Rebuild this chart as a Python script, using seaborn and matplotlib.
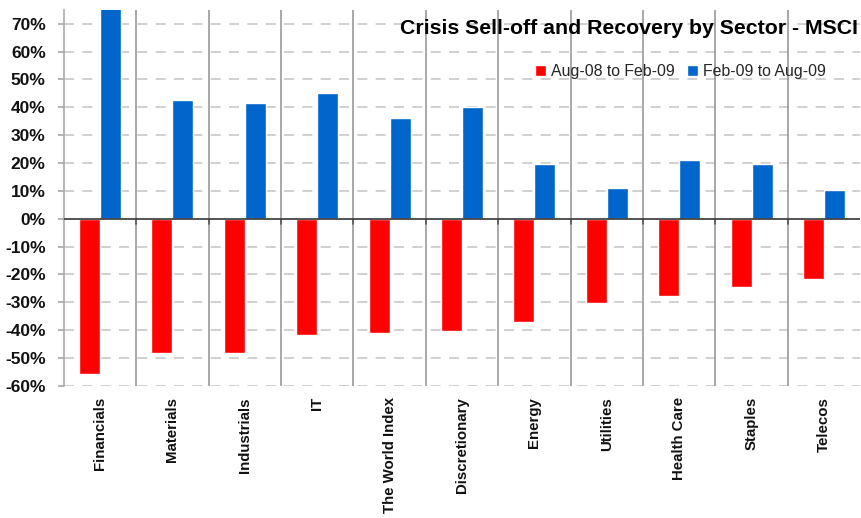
import matplotlib
matplotlib.use("Agg")
import matplotlib.pyplot as plt
import seaborn as sns
import pandas as pd
import numpy as np

sectors = ["Financials", "Materials", "Industrials", "IT", "The World Index",
           "Discretionary", "Energy", "Utilities", "Health Care", "Staples", "Telecos"]
selloff = [-55.8, -48.2, -48.2, -41.7, -41.0, -40.2, -37.0, -30.4, -27.9, -24.6, -21.7]
recovery = [76.0, 42.8, 41.7, 45.0, 36.0, 40.2, 19.6, 11.2, 21.0, 19.6, 10.5]
series = ["Aug-08 to Feb-09", "Feb-09 to Aug-09"]
colors = ["#FF0000", "#0066CC"]

df = pd.DataFrame({
    "Sector": sectors * 2,
    "Change": selloff + recovery,
    "Period": [series[0]] * len(sectors) + [series[1]] * len(sectors),
})

sns.set_theme(style="white")
plt.rcParams["font.family"] = ["Liberation Sans", "DejaVu Sans"]

fig = plt.figure(figsize=(8.62, 5.18), dpi=100)
ax = fig.add_axes([0.074, 0.255, 0.924, 0.726])

sns.barplot(data=df, x="Sector", y="Change", hue="Period", palette=colors,
            width=0.58, saturation=1, ax=ax, order=sectors, hue_order=series,
            legend=True)

ax.set_ylim(-60, 75)
ax.set_xlim(-0.5, len(sectors) - 0.5)
ax.set_yticks(np.arange(-60, 71, 10))
ax.set_yticklabels([f"{v}%" for v in range(-60, 71, 10)], fontsize=12.5,
                   fontweight="bold", color="#111111")
ax.set_xticks(range(len(sectors)))
ax.set_xticklabels(sectors, rotation=90, fontsize=10.8, fontweight="bold",
                   color="#111111")
ax.tick_params(axis="x", length=0, pad=8)
ax.tick_params(axis="y", length=4, color="#aaaaaa", pad=9, left=True)
ax.set_xlabel("")
ax.set_ylabel("")

for v in range(-60, 71, 10):
    if v != 0:
        ax.axhline(v, color="#c8c8c8", lw=1.2, ls=(0, (6, 5)), zorder=0)
for b in np.arange(0.5, len(sectors) - 0.5, 1):
    ax.axvline(b, color="#999999", lw=1.2, zorder=0)
    ax.plot([b, b], [-2, 0], color="#555555", lw=1.2, zorder=3)
ax.axhline(0, color="#444444", lw=1.3, zorder=3)

for s in ["top", "right", "bottom"]:
    ax.spines[s].set_visible(False)
ax.spines["left"].set_color("#aaaaaa")
ax.spines["left"].set_linewidth(1.2)

ax.text(0.997, 0.95, "Crisis Sell-off and Recovery by Sector - MSCI",
        transform=ax.transAxes, ha="right", va="center", fontsize=15.3,
        fontweight="bold", color="#000000")

leg = ax.legend(loc="center right", bbox_to_anchor=(0.965, 0.835), ncol=2,
                frameon=False, fontsize=11.4, handlelength=0.7, handleheight=0.7,
                handletextpad=0.3, columnspacing=0.8, borderaxespad=0)

fig.savefig("out.png", dpi=100, facecolor="white")
